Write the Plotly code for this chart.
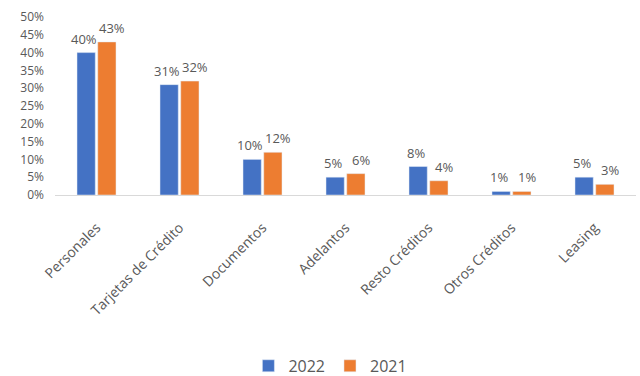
import plotly.graph_objects as go

categories = ["Personales", "Tarjetas de Crédito", "Documentos", "Adelantos",
              "Resto Créditos", "Otros Créditos", "Leasing"]
values_2022 = [40, 31, 10, 5, 8, 1, 5]
values_2021 = [43, 32, 12, 6, 4, 1, 3]
y_ticks = [0, 5, 10, 15, 20, 25, 30, 35, 40, 45, 50]

FONT = "Open Sans, Noto Sans, sans-serif"
GRAY = "#595959"
BAR_OFFSET = 10.4  # px from category centre to each bar centre

fig = go.Figure()
series = [("2022", values_2022, "#4472C4", -BAR_OFFSET - 2),
          ("2021", values_2021, "#ED7D31", BAR_OFFSET + 5)]
for name, vals, color, shift in series:
    fig.add_trace(go.Bar(name=name, x=categories, y=vals, marker_color=color))
    # value labels above each bar
    for cat, v in zip(categories, vals):
        fig.add_annotation(
            x=cat, y=v, text=f"{v}%", showarrow=False,
            xshift=shift, yshift=3, yanchor="bottom",
            font=dict(color=GRAY, size=13, family=FONT),
        )

fig.update_layout(
    width=640, height=376,
    margin=dict(l=55, r=4, t=17, b=181, autoexpand=False),
    paper_bgcolor="white", plot_bgcolor="white",
    barmode="group", bargap=0.5, bargroupgap=0.12,
    font=dict(family=FONT, color=GRAY, size=12),
    legend=dict(orientation="h", x=0.474, xanchor="center", y=-0.96,
                yanchor="middle", font=dict(size=16, color=GRAY),
                itemwidth=30, traceorder="normal"),
    showlegend=True,
)
fig.update_yaxes(
    range=[0, 50], tickvals=y_ticks, ticktext=[f"{t}%" for t in y_ticks],
    showgrid=False, zeroline=False, showline=False, automargin=False,
    tickfont=dict(size=12, color=GRAY), ticklabelstandoff=10,
)
fig.update_xaxes(
    tickangle=-45, showline=True, linecolor="#D9D9D9", linewidth=1,
    tickfont=dict(size=14, color=GRAY), ticks="", automargin=False,
    ticklabelstandoff=18,
)

fig.write_html("out.html")
